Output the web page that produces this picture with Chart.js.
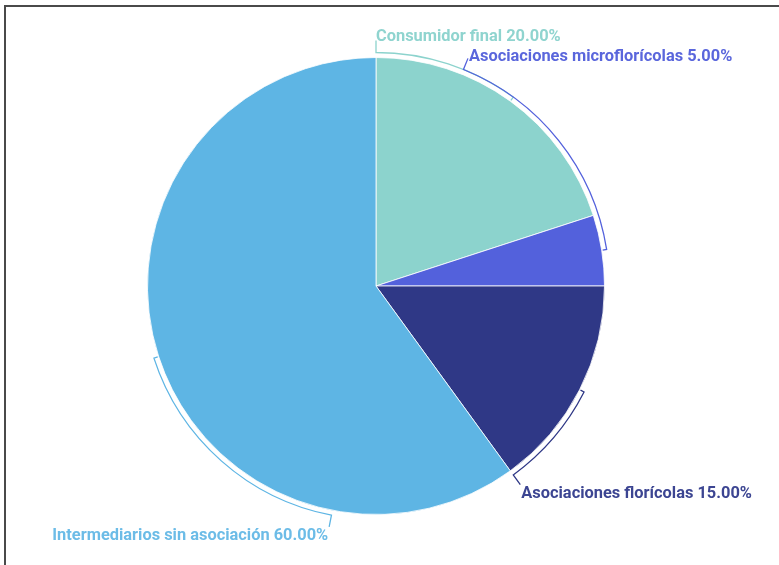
<!DOCTYPE html>
<html>
<head>
<meta charset="utf-8">
<script src="https://cdn.jsdelivr.net/npm/chart.js@4"></script>
<style>
    html, body { margin: 0; padding: 0; background: #fff; }
    #wrap { position: relative; width: 779px; height: 565px; overflow: hidden; }
    #frame {
        position: absolute; left: 4px; top: 5px; right: -10px; bottom: -10px;
        border-top: 2px solid #4a4a4a; border-left: 2px solid #4a4a4a;
        pointer-events: none;
    }
</style>
</head>
<body>
<div id="wrap">
    <canvas id="pieChart" width="779" height="565"></canvas>
    <div id="frame"></div>
</div>
<script>
const categories = ['Consumidor final', 'Asociaciones microflorícolas', 'Asociaciones florícolas', 'Intermediarios sin asociación'];
const values = [20, 5, 15, 60];
const sliceColors = ['#8cd3cd', '#5361dc', '#2f3886', '#5eb5e4'];
const textColors = ['#8fd4cf', '#5a66dc', '#3c4592', '#6cbce7'];

// where each label sits on the ring (degrees clockwise from 12 o'clock) and how its text hangs
const labelSpots = [
    { angle: 0,   align: 'left',  dx: 0,  dy: -4 },
    { angle: 22,  align: 'left',  dx: 1,  dy: -1 },
    { angle: 144, align: 'left',  dx: 1,  dy: 9 },
    { angle: 191, align: 'right', dx: -1, dy: 9 }
];

const total = values.reduce((a, b) => a + b, 0);

// curved leader lines from slice middle to label
const ringLabels = {
    id: 'ringLabels',
    afterDatasetsDraw(chart) {
        const ctx = chart.ctx;
        const meta = chart.getDatasetMeta(0);
        meta.data.forEach((arc, i) => {
            const p = arc.getProps(['x', 'y', 'startAngle', 'endAngle', 'outerRadius'], true);
            const spot = labelSpots[i];
            const mid = (p.startAngle + p.endAngle) / 2;
            const lab = spot.angle * Math.PI / 180 - Math.PI / 2;
            const r1 = p.outerRadius + 5;
            const r2 = p.outerRadius + 17;

            ctx.save();
            ctx.strokeStyle = sliceColors[i];
            ctx.lineWidth = 1.3;
            ctx.beginPath();
            ctx.moveTo(p.x + Math.cos(mid) * (p.outerRadius + 1), p.y + Math.sin(mid) * (p.outerRadius + 1));
            ctx.arc(p.x, p.y, r1, mid, lab, lab < mid);
            ctx.lineTo(p.x + Math.cos(lab) * r2, p.y + Math.sin(lab) * r2);
            ctx.stroke();

            const tx = p.x + Math.cos(lab) * r2 + spot.dx;
            const ty = p.y + Math.sin(lab) * r2 + spot.dy;
            ctx.fillStyle = textColors[i];
            ctx.font = 'bold 16.4px Roboto, sans-serif';
            ctx.textAlign = spot.align;
            ctx.textBaseline = 'middle';
            ctx.fillText(categories[i] + ' ' + (values[i] / total * 100).toFixed(2) + '%', tx, ty);
            ctx.restore();
        });
    }
};

const pieCtx = document.getElementById('pieChart').getContext('2d');
new Chart(pieCtx, {
    type: 'pie',
    data: {
        labels: categories,
        datasets: [{
            data: values,
            backgroundColor: sliceColors,
            borderColor: 'rgba(255,255,255,0.8)',
            borderWidth: 1
        }]
    },
    options: {
        responsive: false,
        animation: false,
        layout: { padding: { top: 57, bottom: 50, left: 20, right: 47 } },
        plugins: {
            legend: { display: false },
            tooltip: { enabled: false }
        }
    },
    plugins: [ringLabels]
});
</script>
</body>
</html>
